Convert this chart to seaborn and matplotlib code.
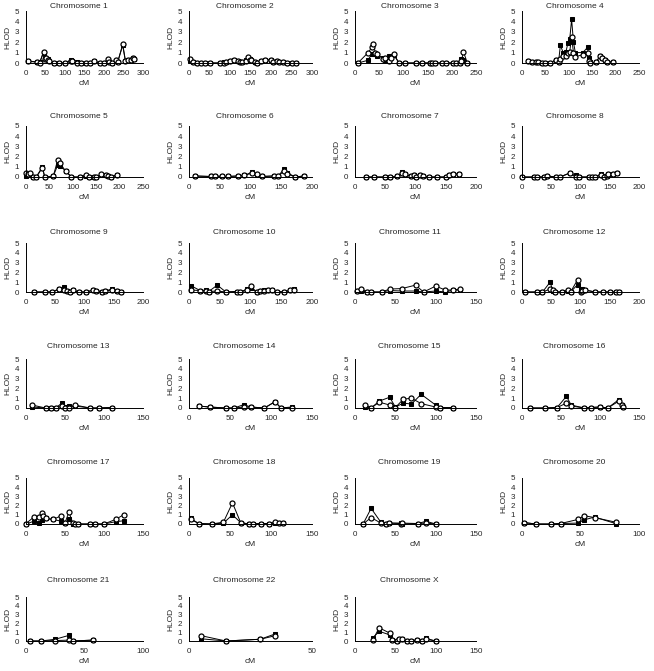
import numpy as np
import seaborn as sns
import matplotlib.pyplot as plt

# HLOD per chromosome: filled squares (sq) and open markers (op)
chr1_cm = [4, 28, 35, 45, 48, 52, 57, 60, 72, 85, 100, 115, 118, 130, 140, 155, 165, 175, 190, 200, 210, 212, 220, 230, 235, 248, 255, 262, 268, 275, 278]
chr1_sq = [0.2, 0.1, 0.05, 1.0, 0.5, 0.4, 0.4, 0.2, 0, 0, 0, 0.3, 0.2, 0.05, 0, 0, 0, 0.15, 0, 0, 0.3, 0.1, 0, 0.2, 0.1, 1.7, 0.15, 0.3, 0.3, 0.5, 0.4]
chr1_op = [0.15, 0.1, 0, 1.1, 0.4, 0.5, 0.3, 0.2, 0, 0, 0, 0.2, 0.2, 0, 0, 0, 0, 0.2, 0, 0, 0.4, 0.1, 0, 0.3, 0.05, 1.8, 0.2, 0.3, 0.3, 0.45, 0.4]

chr2_cm = [2, 10, 20, 30, 40, 50, 75, 85, 90, 100, 110, 120, 125, 130, 140, 145, 148, 152, 160, 165, 175, 185, 200, 205, 215, 220, 230, 240, 250, 260]
chr2_sq = [0.2, 0.05, 0, 0, 0, 0, 0, 0.05, 0.05, 0.2, 0.3, 0.2, 0.1, 0.1, 0.3, 0.5, 0.4, 0.3, 0.1, 0, 0.2, 0.3, 0.3, 0.1, 0.2, 0.1, 0.1, 0, 0, 0]
chr2_op = [0.4, 0.1, 0, 0, 0, 0, 0, 0, 0.05, 0.2, 0.25, 0.2, 0.1, 0.05, 0.2, 0.6, 0.3, 0.3, 0.1, 0, 0.2, 0.3, 0.25, 0.05, 0.15, 0.1, 0.05, 0, 0, 0]

chr3_cm = [6, 26, 35, 38, 42, 46, 58, 62, 70, 75, 80, 91, 103, 125, 139, 154, 160, 165, 179, 189, 203, 209, 216, 220, 224, 232]
chr3_sq = [0, 0.25, 0.85, 0.85, 0.85, 0.7, 0.5, 0.3, 0.7, 0.7, 0.8, 0, 0, 0, 0, 0, 0, 0, 0, 0, 0, 0, 0, 0.4, 0.3, 0]
chr3_op = [0, 0.95, 1.5, 1.8, 1.0, 0.85, 0.4, 0.5, 0.2, 0.5, 0.85, 0, 0, 0, 0, 0, 0, 0, 0, 0, 0, 0, 0, 0.2, 1.1, 0]

chr4_cm = [12, 22, 30, 35, 42, 50, 60, 72, 78, 82, 88, 94, 98, 102, 106, 110, 114, 130, 140, 143, 146, 158, 167, 172, 177, 182, 195]
chr4_sq = [0.2, 0.05, 0.05, 0.1, 0, 0, 0, 0.3, 0.05, 1.7, 1.0, 1.1, 1.9, 2.3, 4.2, 2.0, 1.0, 1.0, 1.5, 0.5, 0.05, 0.05, 0.7, 0.5, 0.3, 0.1, 0.1]
chr4_op = [0.15, 0.05, 0.05, 0.1, 0, 0, 0, 0.3, 0.05, 0.4, 0.7, 0.7, 1.0, 1.1, 2.5, 1.0, 0.6, 0.8, 1.0, 0.2, 0, 0.05, 0.7, 0.5, 0.3, 0.1, 0.1]

chr5_cm = [0, 5, 8, 15, 22, 35, 40, 58, 68, 72, 85, 97, 115, 128, 135, 145, 150, 160, 170, 175, 182, 194]
chr5_sq = [0.1, 0.3, 0.2, 0, 0, 1.0, 0, 0.05, 1.2, 1.1, 0.6, 0, 0, 0.1, 0, 0, 0, 0.2, 0.2, 0.1, 0, 0.2]
chr5_op = [0.4, 0.3, 0.4, 0, 0, 0.9, 0, 0.05, 1.7, 1.4, 0.55, 0, 0, 0.2, 0, 0, 0, 0.25, 0.15, 0.1, 0, 0.2]

chr6_cm = [10, 35, 43, 53, 63, 80, 90, 103, 110, 118, 138, 145, 155, 160, 173, 187]
chr6_sq = [0.1, 0.05, 0.1, 0.05, 0.05, 0.1, 0.15, 0.5, 0.2, 0.05, 0.1, 0.1, 0.8, 0.4, 0, 0.1]
chr6_op = [0.1, 0.05, 0.1, 0.05, 0.05, 0.1, 0.15, 0.4, 0.3, 0.05, 0.1, 0.1, 0.6, 0.3, 0, 0.1]

chr7_cm = [18, 32, 50, 58, 70, 78, 82, 93, 97, 100, 108, 112, 123, 135, 150, 155, 162, 172]
chr7_sq = [0, 0, 0, 0, 0.05, 0.5, 0.3, 0.05, 0.2, 0, 0.15, 0.1, 0, 0, 0, 0.2, 0.3, 0.3]
chr7_op = [0, 0, 0, 0, 0.05, 0.4, 0.3, 0.05, 0.15, 0, 0.2, 0.1, 0, 0, 0, 0.2, 0.3, 0.25]

chr8_cm = [0, 20, 25, 37, 43, 58, 65, 82, 92, 97, 115, 120, 125, 135, 140, 145, 147, 155, 163]
chr8_sq = [0, 0, 0, 0, 0.1, 0, 0, 0.4, 0.2, 0, 0, 0, 0, 0.3, 0.1, 0.05, 0.3, 0.3, 0.4]
chr8_op = [0, 0, 0, 0, 0.1, 0, 0, 0.4, 0, 0, 0, 0, 0, 0.2, 0, 0.05, 0.25, 0.3, 0.35]

chr9_cm = [13, 32, 45, 57, 65, 70, 75, 80, 90, 103, 115, 120, 130, 135, 147, 155, 163]
chr9_sq = [0, 0, 0, 0.3, 0.55, 0.1, 0.05, 0.2, 0, 0, 0.2, 0.1, 0.05, 0.1, 0.3, 0.1, 0]
chr9_op = [0, 0, 0, 0.35, 0.2, 0.1, 0.05, 0.2, 0, 0, 0.2, 0.1, 0.05, 0.1, 0.2, 0.1, 0]

chr10_cm = [3, 18, 28, 32, 46, 60, 78, 83, 95, 100, 110, 115, 122, 128, 135, 143, 155, 165, 170]
chr10_sq = [0.65, 0.15, 0.2, 0.05, 0.7, 0, 0.05, 0, 0.3, 0.4, 0, 0.1, 0.2, 0.2, 0.2, 0.05, 0, 0.2, 0.3]
chr10_op = [0.2, 0.15, 0.1, 0.05, 0.1, 0, 0.05, 0, 0.2, 0.6, 0, 0.1, 0.15, 0.2, 0.2, 0.05, 0, 0.2, 0.2]

chr11_cm = [2, 8, 15, 20, 33, 43, 58, 75, 85, 100, 112, 122, 130]
chr11_sq = [0.1, 0.1, 0, 0, 0, 0.15, 0.1, 0.1, 0, 0.1, 0, 0.2, 0.2]
chr11_op = [0.1, 0.3, 0, 0, 0, 0.3, 0.35, 0.7, 0, 0.6, 0.2, 0.2, 0.3]

chr12_cm = [5, 25, 35, 48, 53, 57, 68, 78, 83, 95, 100, 103, 108, 125, 138, 150, 160, 165]
chr12_sq = [0, 0, 0, 1.0, 0.1, 0, 0, 0.1, 0, 0.75, 0.3, 0.3, 0.2, 0, 0, 0, 0, 0]
chr12_op = [0, 0, 0, 0.3, 0.2, 0, 0, 0.2, 0, 1.25, 0, 0.1, 0.2, 0, 0, 0, 0, 0]

chr13_cm = [8, 25, 32, 38, 46, 50, 55, 63, 82, 93, 110]
chr13_sq = [0.1, 0, 0, 0, 0.5, 0.1, 0.2, 0.2, 0, 0, 0.05]
chr13_op = [0.3, 0, 0, 0, 0.2, 0, 0, 0.3, 0, 0, 0.05]

chr14_cm = [12, 25, 45, 55, 67, 75, 92, 105, 112, 125]
chr14_sq = [0.2, 0.1, 0, 0, 0.35, 0.1, 0, 0.65, 0, 0.1]
chr14_op = [0.2, 0.1, 0, 0, 0.1, 0.1, 0, 0.65, 0, 0.05]

chr15_cm = [12, 20, 30, 43, 50, 60, 70, 82, 100, 105, 122]
chr15_sq = [0.15, 0, 0.7, 1.1, 0.1, 0.5, 0.4, 1.4, 0.3, 0.05, 0.05]
chr15_op = [0.35, 0, 0.6, 0.3, 0.05, 0.9, 1.0, 0.45, 0.1, 0, 0]

chr16_cm = [10, 30, 45, 57, 63, 80, 88, 100, 110, 124, 128, 129]
chr16_sq = [0, 0, 0.05, 1.2, 0.3, 0, 0.05, 0.1, 0, 0.85, 0.3, 0.1]
chr16_op = [0, 0, 0.05, 0.5, 0.2, 0, 0.05, 0.1, 0, 0.7, 0.3, 0.1]

chr17_cm = [0, 10, 17, 20, 22, 25, 35, 45, 50, 55, 60, 63, 67, 82, 88, 100, 115, 125]
chr17_sq = [0, 0.3, 0.15, 0.4, 0.6, 0.6, 0.5, 0.3, 0.1, 0.5, 0, 0, 0, 0, 0, 0, 0.25, 0.35]
chr17_op = [0.05, 0.75, 0.8, 1.2, 0.9, 0.6, 0.5, 0.9, 0.1, 1.3, 0.1, 0, 0, 0, 0, 0, 0.5, 1.0]

chr18_cm = [2, 12, 28, 42, 53, 63, 73, 78, 88, 98, 105, 110, 115]
chr18_sq = [0.6, 0.05, 0, 0.1, 1.0, 0.15, 0, 0, 0.05, 0.05, 0.1, 0.1, 0.1]
chr18_op = [0.5, 0.05, 0, 0.2, 2.3, 0.15, 0, 0, 0.05, 0.05, 0.2, 0.1, 0.1]

chr19_cm = [10, 20, 32, 38, 42, 57, 58, 78, 88, 100]
chr19_sq = [0, 1.7, 0.2, 0, 0.1, 0.1, 0, 0.05, 0.3, 0]
chr19_op = [0, 0.7, 0.1, 0, 0.1, 0.05, 0.1, 0.05, 0.1, 0]

chr20_cm = [2, 12, 25, 33, 48, 53, 62, 80]
chr20_sq = [0.15, 0, 0, 0.05, 0.1, 0.45, 0.75, 0.05]
chr20_op = [0.15, 0, 0, 0.05, 0.5, 0.9, 0.7, 0.2]

chr21_cm = [3, 13, 25, 37, 40, 57]
chr21_sq = [0, 0, 0.2, 0.65, 0, 0.1]
chr21_op = [0, 0, 0.05, 0.1, 0, 0.1]

chr22_cm = [5, 15, 29, 35]
chr22_sq = [0.25, 0, 0.2, 0.8]
chr22_op = [0.6, 0, 0.2, 0.6]

chrX_cm = [22, 30, 43, 46, 52, 55, 58, 65, 70, 77, 83, 88, 100]
chrX_sq = [0.35, 1.1, 0.7, 0.1, 0, 0.2, 0.2, 0, 0.05, 0.1, 0, 0.3, 0]
chrX_op = [0.1, 1.5, 0.9, 0.1, 0, 0.2, 0.2, 0, 0.05, 0.1, 0, 0.2, 0]

names = [str(i) for i in range(1, 23)] + ["X"]
x_max = [300, 300, 250, 250, 250, 200, 200, 200, 200, 200, 150, 200,
         150, 150, 150, 150, 150, 150, 150, 100, 100, 50, 150]

panels = [
    (chr1_cm, chr1_sq, chr1_op), (chr2_cm, chr2_sq, chr2_op), (chr3_cm, chr3_sq, chr3_op),
    (chr4_cm, chr4_sq, chr4_op), (chr5_cm, chr5_sq, chr5_op), (chr6_cm, chr6_sq, chr6_op),
    (chr7_cm, chr7_sq, chr7_op), (chr8_cm, chr8_sq, chr8_op), (chr9_cm, chr9_sq, chr9_op),
    (chr10_cm, chr10_sq, chr10_op), (chr11_cm, chr11_sq, chr11_op), (chr12_cm, chr12_sq, chr12_op),
    (chr13_cm, chr13_sq, chr13_op), (chr14_cm, chr14_sq, chr14_op), (chr15_cm, chr15_sq, chr15_op),
    (chr16_cm, chr16_sq, chr16_op), (chr17_cm, chr17_sq, chr17_op), (chr18_cm, chr18_sq, chr18_op),
    (chr19_cm, chr19_sq, chr19_op), (chr20_cm, chr20_sq, chr20_op), (chr21_cm, chr21_sq, chr21_op),
    (chr22_cm, chr22_sq, chr22_op), (chrX_cm, chrX_sq, chrX_op),
]

sns.set_style("white")
plt.rcParams['font.family'] = ['Liberation Sans', 'DejaVu Sans']

W, H = 654, 671
fig = plt.figure(figsize=(W / 100, H / 100), dpi=100)

# pixel boxes of the axes (top, bottom) per row and (left, right) per column
rows_px = [(11, 63), (126, 177), (243, 292), (359, 408), (478, 524), (597, 641)]
cols_px = [(26, 143), (189, 312), (355, 476), (522, 639)]
title_px = [6, 117, 233, 347, 463, 581]

for i, (cm, sq, op) in enumerate(panels):
    r, c = divmod(i, 4)
    y0, y1 = rows_px[r]
    x0, x1 = cols_px[c]
    ax = fig.add_axes([x0 / W, 1 - y1 / H, (x1 - x0) / W, (y1 - y0) / H])

    sns.lineplot(x=cm, y=sq, ax=ax, sort=False, color='black', lw=0.7,
                 marker='s', markersize=3.4, markerfacecolor='black',
                 markeredgecolor='black', clip_on=False)
    sns.lineplot(x=cm, y=op, ax=ax, sort=False, color='black', lw=0.7,
                 marker='o', markersize=3.6, markerfacecolor='white',
                 markeredgecolor='black', markeredgewidth=0.9, clip_on=False)

    ax.set_xlim(0, x_max[i])
    ax.set_ylim(0, 5)
    ax.set_xticks(np.arange(0, x_max[i] + 1, 50))
    ax.set_yticks(range(0, 6))
    ty = 1 + (y0 - title_px[r]) / (y1 - y0)
    ax.text(0.45, ty, "Chromosome " + names[i], transform=ax.transAxes,
            ha='center', va='center', fontsize=6)
    ax.set_xlabel("cM", fontsize=6, labelpad=2)
    ax.set_ylabel("HLOD", fontsize=6, labelpad=2)
    ax.tick_params(labelsize=5.8, length=2.5, width=0.6, pad=2.5, direction='out')
    sns.despine(ax=ax)
    for s in ['left', 'bottom']:
        ax.spines[s].set_color('black')
        ax.spines[s].set_linewidth(0.7)

fig.savefig("out.png", dpi=100, facecolor='white')
